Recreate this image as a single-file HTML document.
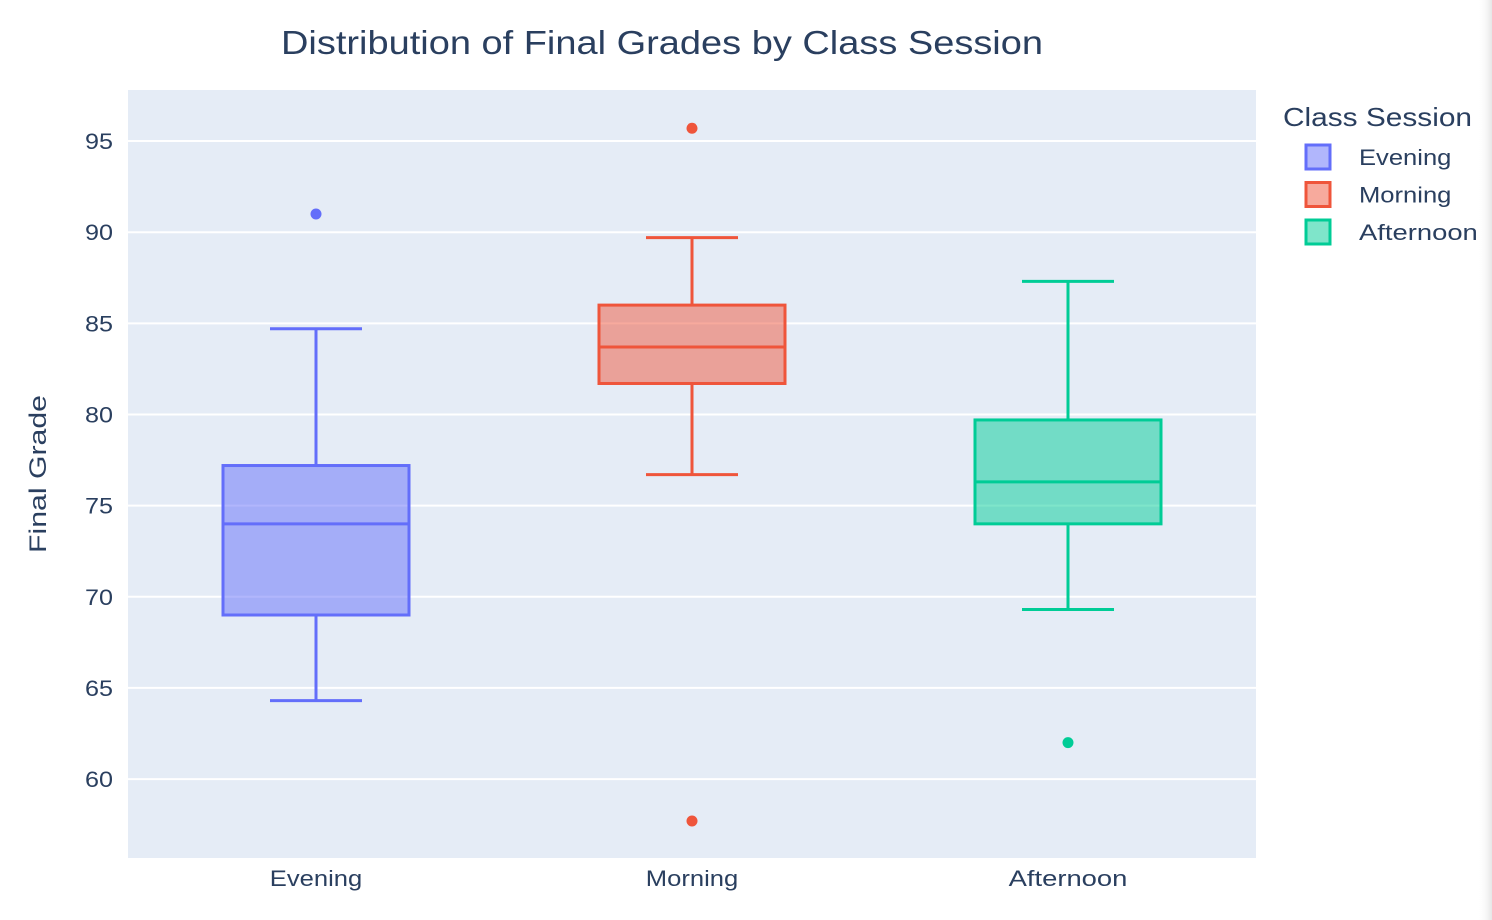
<!DOCTYPE html>
<html><head><meta charset="utf-8"><style>
html,body{margin:0;padding:0;background:#fff;}
svg{display:block;font-family:"Liberation Sans",sans-serif;}
</style></head><body>
<svg id="chart" width="1492" height="920" xmlns="http://www.w3.org/2000/svg">
<defs><linearGradient id="edge" x1="0" x2="1"><stop offset="0" stop-color="#fff" stop-opacity="0"/><stop offset="1" stop-color="#e6e6e6"/></linearGradient></defs>
<rect x="1478" y="0" width="14" height="920" fill="url(#edge)"/>
<text x="281" y="54" textLength="762" lengthAdjust="spacingAndGlyphs" font-size="33" fill="#2a3f5f">Distribution of Final Grades by Class Session</text>
<rect x="128" y="90" width="1128" height="768" fill="#e5ecf6"/>
<g id="grid"></g>
<g id="yticks"></g>
<g id="xticks"></g>
<g id="boxes"></g>
<text transform="translate(46,474) rotate(-90)" text-anchor="middle" textLength="158" lengthAdjust="spacingAndGlyphs" font-size="24" fill="#2a3f5f">Final Grade</text>
<g id="legend">
<text x="1283" y="126" textLength="189" lengthAdjust="spacingAndGlyphs" font-size="26" fill="#2a3f5f">Class Session</text>
</g>
</svg>
<script>
const categories = ["Evening","Morning","Afternoon"];
const lowerWhisker = [64.3, 76.7, 69.3];
const q1 = [69.0, 81.7, 74.0];
const medians = [74.0, 83.7, 76.3];
const q3 = [77.2, 86.0, 79.7];
const upperWhisker = [84.7, 89.7, 87.3];
const outliers = [[91.0],[95.7,57.7],[62.0]];
const yTicks = [60,65,70,75,80,85,90,95];
const colors = ["#636efa","#ef553b","#00cc96"];
const fills = ["rgba(99,110,250,0.5)","rgba(239,85,59,0.5)","rgba(0,204,150,0.5)"];

const NS="http://www.w3.org/2000/svg";
const L=128,R=1256,T=90,B=858, yMin=55.67, yMax=97.8;
const y=v=>B-(v-yMin)/(yMax-yMin)*(B-T);
const band=(R-L)/categories.length;
const x=i=>L+band*(i+0.5);
function mk(tag,attrs,parent){const e=document.createElementNS(NS,tag);for(const k in attrs)e.setAttribute(k,attrs[k]);document.getElementById(parent).appendChild(e);return e;}
const charW=13.2;

yTicks.forEach(t=>{
  const g=mk('line',{x1:L,x2:R,y1:y(t),y2:y(t),stroke:'#fff','stroke-width':2},'grid');
  
  
  const tx=mk('text',{x:113,y:y(t)+8,'text-anchor':'end','font-size':22,fill:'#2a3f5f',textLength:28,lengthAdjust:'spacingAndGlyphs'},'yticks');
  tx.textContent=t;
  
  
});
const bw=186, cw=92;
categories.forEach((c,i)=>{
  const cx=x(i);
  const tx=mk('text',{x:cx,y:886,'text-anchor':'middle','font-size':22,fill:'#2a3f5f',textLength:c.length*charW,lengthAdjust:'spacingAndGlyphs'},'xticks');
  tx.textContent=c;
  
  
  const col=colors[i];
  const w1=mk('line',{x1:cx,x2:cx,y1:y(upperWhisker[i]),y2:y(q3[i]),stroke:col,'stroke-width':3},'boxes');
  
  
  const w2=mk('line',{x1:cx,x2:cx,y1:y(q1[i]),y2:y(lowerWhisker[i]),stroke:col,'stroke-width':3},'boxes');
  
  
  [upperWhisker[i],lowerWhisker[i]].forEach((v,k)=>{
    const cap=mk('line',{x1:cx-cw/2,x2:cx+cw/2,y1:y(v),y2:y(v),stroke:col,'stroke-width':3},'boxes');
    
    
  });
  const bx=mk('rect',{x:cx-bw/2,y:y(q3[i]),width:bw,height:y(q1[i])-y(q3[i]),fill:fills[i],stroke:col,'stroke-width':3},'boxes');
  
  
  const md=mk('line',{x1:cx-bw/2,x2:cx+bw/2,y1:y(medians[i]),y2:y(medians[i]),stroke:col,'stroke-width':3},'boxes');
  
  
  outliers[i].forEach(v=>{
    const p=mk('circle',{cx:cx,cy:y(v),r:5.5,fill:col},'boxes');
    
    
  });
  const ly=157+i*37.5;
  const sw=mk('rect',{x:1306,y:ly-12,width:24,height:24,fill:fills[i],stroke:col,'stroke-width':3},'legend');
  
  
  const lt=mk('text',{x:1359,y:ly+8,'font-size':22,fill:'#2a3f5f',textLength:c.length*charW,lengthAdjust:'spacingAndGlyphs'},'legend');
  lt.textContent=c;
  
  
});
</script>
</body></html>
